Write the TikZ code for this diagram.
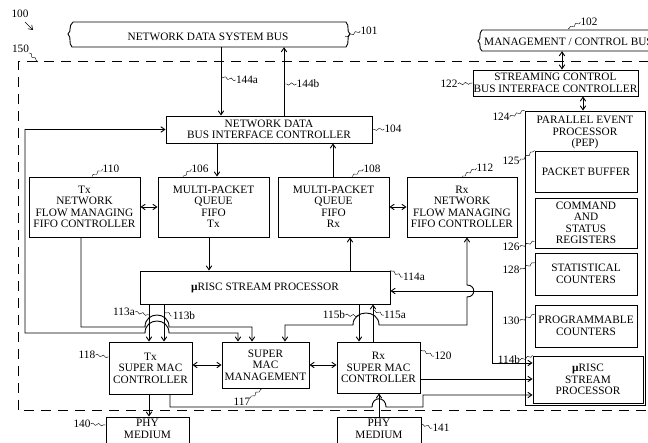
\documentclass[tikz,border=0pt]{standalone}
\usepackage{fontspec}
\setmainfont{Liberation Serif}
\usetikzlibrary{arrows.meta,calc,positioning,decorations.pathmorphing}
\tikzset{
  blk/.style={draw,line width=.9pt,align=center,inner sep=.5pt,
    font=\fontsize{11.3}{11.5}\selectfont},
  ref/.style={inner sep=0pt,font=\fontsize{11.3}{11.5}\selectfont},
  wire/.style={line width=.9pt},
  lead/.style={line width=.4pt,decorate,
    decoration={snake,amplitude=1.1pt,segment length=6pt}},
}

\begin{document}
\begin{tikzpicture}[x=1pt,y=-1pt,>={Straight Barb[length=4pt,width=5.5pt]}]
  \useasboundingbox (0,0) rectangle (648,443);
  \clip (0,0) rectangle (648,443);

  \draw[line width=1pt,dash pattern=on 10pt off 7pt]
    (700,62) -- (18,62) -- (18,411) -- (700,411);

  \draw[wire] (73,22) -- (346,22) .. controls (350,26) and (346,31) .. (350,34)
    .. controls (346,37) and (350,43) .. (346,47) -- (72,47)
    .. controls (68,43) and (72,38) .. (68,34) .. controls (72,31) and (68,26) .. (73,22);
  \node[ref,minimum width=274,minimum height=21] (ndsb) at (208,36.5) {NETWORK DATA SYSTEM BUS};
  \draw[wire] (700,30) -- (482,30) .. controls (478,34) and (482,38) .. (478,41)
    .. controls (482,44) and (478,48) .. (482,51) -- (700,51);
  \node[ref,anchor=west,minimum height=18] (mcb) at (484,42) {MANAGEMENT / CONTROL BUS};

  \node[blk,minimum width=206,minimum height=27] (ndbic) at (269,129.5) {NETWORK DATA\\BUS INTERFACE CONTROLLER};
  \node[blk,minimum width=165,minimum height=26] (scbic) at (555.5,83) {STREAMING CONTROL\\BUS INTERFACE CONTROLLER};

  \node[blk,minimum width=120,minimum height=294] (pep) at (585,258) {};
  \node[ref,align=center,anchor=north] (peptitle) at (585,116) {PARALLEL EVENT\\PROCESSOR\\(PEP)};
  \node[blk,minimum width=102,minimum height=41] (pbuf) at (586,171.5) {PACKET BUFFER};
  \node[blk,minimum width=102,minimum height=50] (csr) at (586,223) {COMMAND\\AND\\STATUS\\REGISTERS};
  \node[blk,minimum width=102,minimum height=42] (stat) at (586,274) {STATISTICAL\\COUNTERS};
  \node[blk,minimum width=102,minimum height=42] (prog) at (586,326) {PROGRAMMABLE\\COUNTERS};
  \node[blk,minimum width=110,minimum height=47] (urisc) at (588,379.5) {{\bfseries µ}RISC\\STREAM\\PROCESSOR};

  \node[blk,minimum width=111,minimum height=60] (tnfc) at (84.5,207) {Tx\\NETWORK\\FLOW MANAGING\\FIFO CONTROLLER};
  \node[blk,minimum width=111,minimum height=60] (mpqtx) at (213.5,207) {MULTI-PACKET\\QUEUE\\FIFO\\Tx};
  \node[blk,minimum width=111,minimum height=60] (mpqrx) at (333.5,207) {MULTI-PACKET\\QUEUE\\FIFO\\Rx};
  \node[blk,minimum width=110,minimum height=60] (rnfc) at (462,207) {Rx\\NETWORK\\FLOW MANAGING\\FIFO CONTROLLER};
  \node[blk,minimum width=250,minimum height=33] (risc) at (265,287.5) {{\bfseries µ}RISC STREAM PROCESSOR};
  \node[blk,minimum width=83,minimum height=52] (txsmc) at (150.5,368) {Tx\\SUPER MAC\\CONTROLLER};
  \node[blk,minimum width=87,minimum height=46] (smm) at (265.5,365) {SUPER\\MAC\\MANAGEMENT};
  \node[blk,minimum width=83,minimum height=51] (rxsmc) at (378.5,367.5) {Rx\\SUPER MAC\\CONTROLLER};
  \node[blk,minimum width=83,minimum height=30,text depth=6pt] (phya) at (147.5,432) {PHY\\MEDIUM};
  \node[blk,minimum width=84,minimum height=30,text depth=6pt] (phyb) at (379,432) {PHY\\MEDIUM};

  \draw[wire,->] (ndsb.south -| 221,0) -- (ndbic.north -| 221,0);
  \draw[wire,->] (ndbic.north -| 284,0) -- (ndsb.south -| 284,0);
  \draw[wire,<->] (mcb.south -| 562,0) -- (scbic.north -| 562,0);
  \draw[wire,<->] (scbic.south -| 583,0) -- (pep.north -| 583,0);
  \draw[wire,->] (ndbic.south -| 217,0) -- (mpqtx.north -| 217,0);
  \draw[wire,->] (mpqrx.north -| 333,0) -- (ndbic.south -| 333,0);
  \draw[wire,<->] (tnfc) -- (mpqtx);
  \draw[wire,<->] (mpqrx) -- (rnfc);
  \draw[wire,->] (mpqtx.south -| 209,0) -- (risc.north -| 209,0);
  \draw[wire,->] (risc.north -| 350,0) -- (mpqrx.south -| 350,0);
  \draw[wire,->] (risc.south -| 149,0) -- (txsmc.north -| 149,0);
  \draw[wire,->] (risc.south -| 164,0) -- (txsmc.north -| 164,0);
  \draw[wire,->] (risc.south -| 359,0) -- (rxsmc.north -| 359,0);
  \draw[wire,->] (rxsmc.north -| 373,0) -- (risc.south -| 373,0);
  \draw[wire,<->] (txsmc.east |- smm.west) -- (smm.west);
  \draw[wire,<->] (smm.east) -- (rxsmc.west |- smm.east);
  \draw[wire,<->] (ndbic.west) -| (25,333) -- (145,333)
    .. controls (145,317) and (169,317) .. (169,333) -| (smm.north -| 238,0);
  \draw[wire,->] (tnfc.south -| 81,0) -- (81,327) -- (145,327)
    .. controls (145,311) and (169,311) .. (169,327) -| (smm.north -| 252,0);
  \draw[wire,<->] (smm.north -| 285,0) -- (285,325) -- (353,325)
    .. controls (353,309) and (379,309) .. (379,325) -| (467,297)
    .. controls (476,297) and (476,285) .. (467,285) -- (rnfc.south -| 467,0);
  \draw[wire,<->] (risc.east |- 0,291) -- (492,291) -- (492,363) -- (urisc.west |- 0,363);
  \draw[wire,->] (rxsmc.east |- 0,379) -- (urisc.west |- 0,379);
  \draw[wire,->] (txsmc.south -| 170,0) -- (170,407) -- (372,407)
    .. controls (372,396) and (386,396) .. (386,407) -- (423,407) -- (423,395)
    -- (urisc.west |- 0,395);
  \draw[wire,->] (txsmc.south -| 149,0) -- (phya.north -| 149,0);
  \draw[wire,->] (phyb.north -| 379,0) -- (rxsmc.south -| 379,0);

  \foreach \n/\p in {100/{20,14},150/{20.5,49},101/{369,31},102/{589,22},
    144a/{247,80},144b/{308,84},104/{393,129},122/{449,84},124/{501,117},
    125/{511,161},126/{511,247},128/{511,270},130/{511,321},114a/{414,277},
    114b/{509,360},110/{111,169},106/{200,169},108/{372,169},112/{485,168},
    113a/{124,312},113b/{184,316},115b/{334,315},115a/{395,315},118/{87,355},
    117/{242,402},120/{443,356},140/{82,424},141/{441,428}}
    \node[ref] (l\n) at (\p) {\n};

  \coordinate (c100) at (33,30);
  \coordinate (c150) at (38,62);
  \coordinate (c102) at (568,29);
  \coordinate (c144a) at (221,77);
  \coordinate (c144b) at (284,84);
  \coordinate (c110) at (tnfc.north -| 92,0);
  \coordinate (c106) at (mpqtx.north -| 183,0);
  \coordinate (c108) at (mpqrx.north -| 352,0);
  \coordinate (c112) at (rnfc.north -| 462,0);
  \coordinate (c113a) at (149,315);
  \coordinate (c113b) at (164,311);
  \coordinate (c115b) at (359,316);
  \coordinate (c115a) at (373,310);
  \coordinate (c126) at ($(csr.south west)+(0,-7)$);
  \coordinate (c128) at ($(stat.north west)+(0,10)$);
  \coordinate (c130) at ($(prog.north west)+(0,10)$);
  \coordinate (c118) at (txsmc.west |- 0,357);
  \coordinate (c117) at (smm.south -| 262,0);
  \coordinate (c120) at (rxsmc.east |- 0,350);
  \coordinate (c140) at (phya.west |- 0,425);
  \coordinate (c141) at (phyb.east |- 0,424);

  \draw[->,line width=.6pt] ($(l100.south)+(5,4)$) -- (c100);
  \foreach \a/\b in {l150.south east/c150,l101.west/ndsb.east,l102.west/c102,
    l144a.west/c144a,l144b.west/c144b,l104.west/ndbic.east,l122.east/scbic.west,
    l124.east/pep.north west,l125.east/pbuf.north west,l126.east/c126,
    l128.east/c128,l130.east/c130,l114b.east/urisc.north west,
    l114a.west/risc.north east,l110.west/c110,l106.west/c106,l108.west/c108,
    l112.west/c112,l113a.east/c113a,l113b.west/c113b,l115b.east/c115b,
    l115a.west/c115a,l118.east/c118,l117.north east/c117,l120.west/c120,
    l140.east/c140,l141.west/c141}
    \draw[lead] (\a) -- (\b);
\end{tikzpicture}
\end{document}
